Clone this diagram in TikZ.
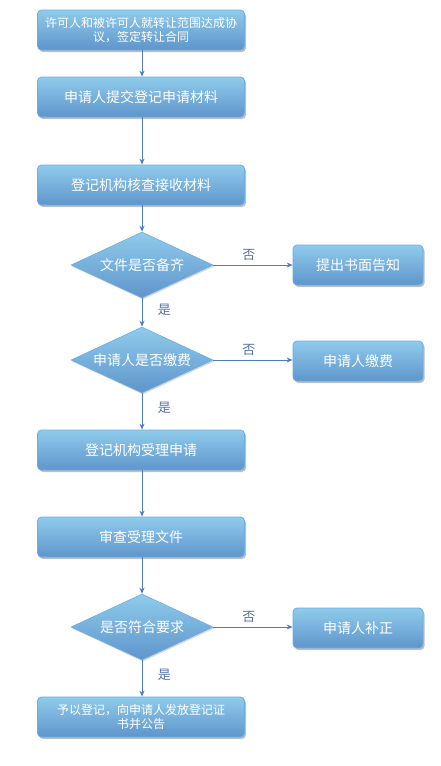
\documentclass[tikz,border=0pt]{standalone}
\usepackage{fontspec}
\setmainfont{Noto Sans CJK SC}
\usetikzlibrary{shapes.geometric,arrows.meta,shadows}
\definecolor{topc}{HTML}{8FCBEB}
\definecolor{botc}{HTML}{5F95CC}
\definecolor{edgec}{HTML}{6AAEE8}
\definecolor{arrc}{HTML}{4F7BC4}
\definecolor{lblc}{HTML}{5272B0}
\tikzset{
  box/.style={rectangle, rounded corners=4pt, draw=edgec, line width=0.8pt,
    top color=topc, bottom color=botc, text=white, align=center,
    drop shadow={shadow xshift=1.5pt, shadow yshift=-2pt, fill=black, opacity=0.25},
    inner sep=0pt},
  mainbox/.style={box, minimum width=207pt, minimum height=40pt},
  sidebox/.style={box, minimum width=130pt, minimum height=40pt},
  decision/.style={diamond, draw=edgec, line width=0.6pt, top color=topc, bottom color=botc,
    text=white, inner sep=0pt, minimum width=142pt, minimum height=66pt, aspect=2.15,
    drop shadow={shadow xshift=1pt, shadow yshift=-1.5pt, fill=black, opacity=0.15}},
  conn/.style={draw=arrc, line width=1pt, -{Stealth[length=6pt,width=5pt]}},
  lbl/.style={text=lblc, font=\fontsize{13}{15}\selectfont},
  big/.style={font=\fontsize{14}{16}\selectfont},
  small/.style={font=\fontsize{12}{13.5}\selectfont}
}
\begin{document}
\begin{tikzpicture}[x=1pt,y=-1pt]
\useasboundingbox (0,0) rectangle (441,766);
\node[mainbox, small] (b1) at (141,30) {许可人和被许可人就转让范围达成协\\议，签定转让合同};
\node[mainbox, big] (b2) at (141,97) {申请人提交登记申请材料};
\node[mainbox, big] (b3) at (141,185) {登记机构核查接收材料};
\node[decision, big] (d1) at (142,265) {文件是否备齐};
\node[sidebox, big] (s1) at (358,265) {提出书面告知};
\node[decision, big] (d2) at (142,360) {申请人是否缴费};
\node[sidebox, big] (s2) at (358,361) {申请人缴费};
\node[mainbox, big] (b4) at (141,450) {登记机构受理申请};
\node[mainbox, big] (b5) at (141,537) {审查受理文件};
\node[decision, big] (d3) at (142,627) {是否符合要求};
\node[sidebox, big] (s3) at (358,628) {申请人补正};
\node[mainbox, small] (b6) at (141,717) {予以登记，向申请人发放登记证\\书并公告};

\draw[conn] (b1.south -| 142,0) -- (b2.north -| 142,0);
\draw[conn] (b2.south -| 142,0) -- (b3.north -| 142,0);
\draw[conn] (b3.south -| 142,0) -- (d1.north);
\draw[conn] (d1.south) -- node[lbl, right=12pt, pos=0.4] (y1) {是} (d2.north);
\draw[conn] (d2.south) -- node[lbl, right=12pt, pos=0.4] (y2) {是} (b4.north -| 142,0);
\draw[conn] (b4.south -| 142,0) -- (b5.north -| 142,0);
\draw[conn] (b5.south -| 142,0) -- (d3.north);
\draw[conn] (d3.south) -- node[lbl, right=12pt, pos=0.4] (y3) {是} (b6.north -| 142,0);
\draw[conn] (d1.east) -- node[lbl, above=1pt, pos=0.45] (n1) {否} (s1.west |- d1.east);
\draw[conn] (d2.east) -- node[lbl, above=1pt, pos=0.45] (n2) {否} (s2.west |- d2.east);
\draw[conn] (d3.east) -- node[lbl, above=1pt, pos=0.45] (n3) {否} (s3.west |- d3.east);
\end{tikzpicture}
\end{document}
